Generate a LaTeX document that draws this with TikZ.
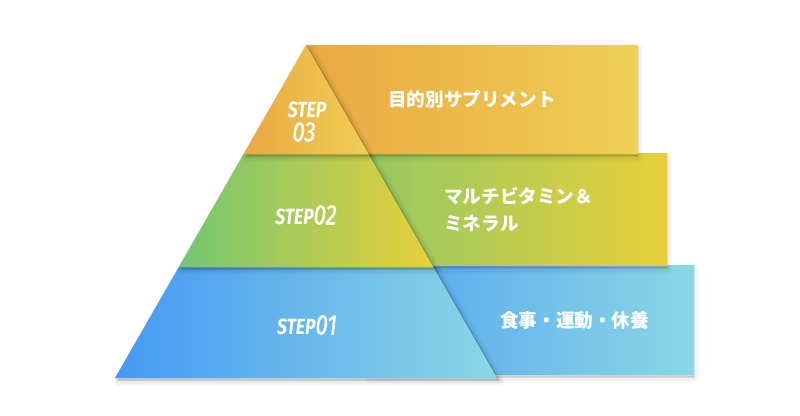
\documentclass[tikz,border=0pt]{standalone}
\usepackage{fontspec}
\newfontfamily\jpfont{Noto Sans CJK JP}
\newfontfamily\stepfont{Fira Sans}
\newfontfamily\numfont{Fira Sans}[ItalicFeatures={FakeBold=1.4}]
\definecolor{orangeL}{HTML}{E9A843}
\definecolor{orangeR}{HTML}{EFCF55}
\definecolor{greenL}{HTML}{74C672}
\definecolor{greenR}{HTML}{E8CF3A}
\definecolor{blueL}{HTML}{4699F3}
\definecolor{blueR}{HTML}{8AD7E4}
\newcommand{\steptext}[2]% first part, number
{\scalebox{0.8}[1]{{\stepfont\itshape\bfseries\fontsize{22}{22}\selectfont #1}{\numfont\itshape\fontsize{28}{28}\selectfont #2}}}
\tikzset{
	soft/.style n args={3}{preaction={draw=black, fill=black, line join=round, opacity=#1, line width=#2,
		transform canvas={shift={#3}}}},
	band/.style={soft={0.025}{10pt}{(0pt,-4pt)}, soft={0.035}{6pt}{(0pt,-4pt)}, soft={0.05}{2pt}{(0pt,-3pt)}},
	tier/.style={soft={0.03}{9pt}{(3pt,-3pt)}, soft={0.045}{5pt}{(3pt,-3pt)}, soft={0.06}{2pt}{(2pt,-2pt)}},
	steplabel/.style={text=white, inner sep=0pt},
	itemlabel/.style={text=white, inner sep=0pt, anchor=west, align=left, font=\jpfont\bfseries\fontsize{18.6}{27}\selectfont}
}

\begin{document}
\begin{tikzpicture}[x=1pt, y=-1pt]
	\useasboundingbox[fill=white] (0,0) rectangle (800,415);
	% bands behind the pyramid
	\path[band, left color=blueL!80!blueR, right color=blueR] (370,265) rectangle (694,374);%1
	\path[band, left color=greenL!85!greenR, right color=greenR] (310,153) rectangle (667,265);%2
	\path[band, left color=orangeL, right color=orangeR] (306,45) rectangle (638,153);%3
	% pyramid
	\path[tier, left color=blueL, right color=blueR] (178.7,267) -- (433.3,267) -- (497,378) -- (115,378) -- cycle;%1
	\path[tier, left color=greenL, right color=greenR] (243.5,154) -- (368.5,154) -- (433.3,267) -- (178.7,267) -- cycle;%2
	\path[tier, left color=orangeL, right color=orangeR] (306,45) -- (368.5,154) -- (243.5,154) -- cycle;%3
	\node[steplabel] (s1) at (307,325){\steptext{STEP}{01}};
	\node[steplabel] (s2) at (306,215){\steptext{STEP}{02}};
	\node[steplabel] (s3a) at (307,110){\steptext{STEP}{}};
	\node[steplabel] (s3b) at (304,132){\steptext{}{03}};
	\node[itemlabel] (i1) at (500,320){食事・運動・休養};
	\node[itemlabel] (i2) at (444,210){マルチビタミン＆\\ミネラル};
	\node[itemlabel] (i3) at (388,99){目的別サプリメント};
\end{tikzpicture}
\end{document}
